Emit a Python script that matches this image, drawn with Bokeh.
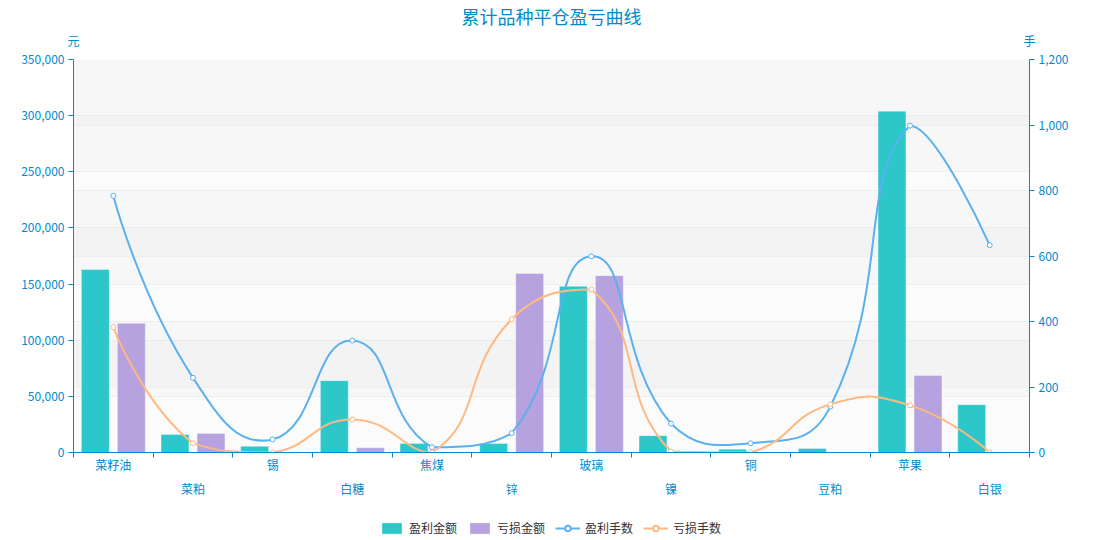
import math
from bokeh.plotting import figure
from bokeh.layouts import column
from bokeh.models import (Range1d, LinearAxis, FixedTicker, NumeralTickFormatter, Grid,
                          Legend, LegendItem, ColumnDataSource, CustomJSTickFormatter)
from bokeh.embed import file_html
from bokeh.resources import INLINE

# ---------------- data ----------------
categories = ["菜籽油", "菜粕", "锡", "白糖", "焦煤", "锌", "玻璃", "镍", "铜", "豆粕", "苹果", "白银"]
profit_amount = [163000, 16000, 5500, 64000, 8000, 8000, 148000, 15000, 3000, 3500, 304000, 42500]
loss_amount = [115000, 17000, 0, 4200, 0, 159500, 157500, 0, 0, 0, 68500, 0]
profit_lots = [784, 228, 40, 342, 16, 59, 599, 88, 28, 140, 998, 633]
loss_lots = [383, 28, 0, 101, 0, 407, 498, 3, 0, 147, 144, 0]
left_ticks = [0, 50000, 100000, 150000, 200000, 250000, 300000, 350000]
right_ticks = [0, 200, 400, 600, 800, 1000, 1200]
series_names = ["盈利金额", "亏损金额", "盈利手数", "亏损手数"]
title_text = "累计品种平仓盈亏曲线"
left_unit = "元"
right_unit = "手"

# ---------------- style ----------------
FONT = "Noto Sans CJK SC"
AXIS_COLOR = "#008acd"
C_PROFIT = "#2ec7c9"
C_LOSS = "#b6a2de"
C_PLOTS = "#5ab1ef"
C_LLOTS = "#ffb980"
FW, FH = 956, 393
TOTAL_W = 1098

n = len(categories)
xc = [i + 0.5 for i in range(n)]
BAR_W = 0.35
BAR_OFF = 0.226

p = figure(frame_width=FW, frame_height=FH, output_backend="svg", toolbar_location=None,
           x_range=Range1d(0, n), y_range=Range1d(left_ticks[0], left_ticks[-1]),
           min_border_left=73, min_border_right=TOTAL_W - 73 - FW, min_border_top=59,
           min_border_bottom=50,
           background_fill_color="#fbfbfb", border_fill_color="white", outline_line_color=None)
p.extra_y_ranges = {"right": Range1d(right_ticks[0], right_ticks[-1])}

# title
p.title.text = title_text
p.title.align = "center"
p.title.text_color = AXIS_COLOR
p.title.text_font = FONT
p.title.text_font_size = "18px"
p.title.text_font_style = "normal"
p.title.standoff = 0

# grids with alternating bands
p.xgrid.visible = False
lg = p.ygrid[0]
lg.ticker = FixedTicker(ticks=left_ticks)
lg.grid_line_color = "#eeeeee"
lg.band_fill_color = "#c8c8c8"
lg.band_fill_alpha = 0.08
rg = Grid(dimension=1, ticker=FixedTicker(ticks=right_ticks), y_range_name="right",
          grid_line_color="#eeeeee", band_fill_color="#c8c8c8", band_fill_alpha=0.08)
p.add_layout(rg)

# left y axis
ya = p.left[0]
ya.ticker = FixedTicker(ticks=left_ticks)
ya.formatter = NumeralTickFormatter(format="0,0")

# right y axis
ra = LinearAxis(y_range_name="right", ticker=FixedTicker(ticks=right_ticks),
                formatter=NumeralTickFormatter(format="0,0"))
p.add_layout(ra, "right")

for ax in (ya, ra):
    ax.axis_line_color = AXIS_COLOR
    ax.major_tick_line_color = AXIS_COLOR
    ax.major_tick_out = 5
    ax.major_tick_in = 0
    ax.minor_tick_out = 0
    ax.minor_tick_in = 0
    ax.major_label_text_color = AXIS_COLOR
    ax.major_label_text_font = FONT
    ax.major_label_text_font_size = "12px"
    ax.major_label_standoff = 4

# bottom axis: category boundary ticks, no labels
xa = p.below[0]
xa.ticker = FixedTicker(ticks=list(range(n + 1)))
xa.formatter = CustomJSTickFormatter(code="return ''")
xa.axis_line_color = AXIS_COLOR
xa.major_tick_line_color = AXIS_COLOR
xa.major_tick_out = 5
xa.major_tick_in = 0
xa.minor_tick_out = 0
xa.minor_tick_in = 0
xa.major_label_standoff = 0

# unit names above the two value axes
ua = LinearAxis(ticker=FixedTicker(ticks=[0, n]),
                major_label_overrides={0: left_unit, n: right_unit})
ua.axis_line_alpha = 0
ua.major_tick_out = 0
ua.major_tick_in = 0
ua.minor_tick_out = 0
ua.minor_tick_in = 0
ua.major_label_text_color = AXIS_COLOR
ua.major_label_text_font = FONT
ua.major_label_text_font_size = "12px"
ua.major_label_standoff = 11
p.add_layout(ua, "above")

# category label rows (alternating)
for start, standoff in ((0, -2), (1, 4)):
    ticks = [xc[i] for i in range(start, n, 2)]
    lab = LinearAxis(ticker=FixedTicker(ticks=ticks),
                     major_label_overrides={xc[i]: categories[i] for i in range(start, n, 2)})
    lab.axis_line_alpha = 0
    lab.major_tick_out = 0
    lab.major_tick_in = 0
    lab.minor_tick_out = 0
    lab.minor_tick_in = 0
    lab.major_label_text_color = AXIS_COLOR
    lab.major_label_text_font = FONT
    lab.major_label_text_font_size = "12px"
    lab.major_label_standoff = standoff
    p.add_layout(lab, "below")

# bars
bsrc = ColumnDataSource(dict(
    xp=[x - BAR_OFF for x in xc], xl=[x + BAR_OFF for x in xc],
    profit=profit_amount, loss=loss_amount))
p.vbar(x="xp", top="profit", bottom=0, width=BAR_W, source=bsrc,
       fill_color=C_PROFIT, line_color="white", line_alpha=0.35)
p.vbar(x="xl", top="loss", bottom=0, width=BAR_W, source=bsrc,
       fill_color=C_LOSS, line_color="white", line_alpha=0.35)

# smooth lines (ECharts-like bezier smoothing, computed in pixel space)
sx = FW / n
sy = FH / (right_ticks[-1] - right_ticks[0])


def smooth_curve(ys, smooth=0.5):
    pts = [(xc[i] * sx, ys[i] * sy) for i in range(n)]
    mnx = min(q[0] for q in pts); mxx = max(q[0] for q in pts)
    mny = min(q[1] for q in pts); mxy = max(q[1] for q in pts)

    def clamp(c):
        return (min(max(c[0], mnx), mxx), min(max(c[1], mny), mxy))

    cps = []
    for i in range(n):
        q = pts[i]
        if i == 0 or i == n - 1:
            cps.append((q, q))
            continue
        pr, nx = pts[i - 1], pts[i + 1]
        vx = (nx[0] - pr[0]) * smooth
        vy = (nx[1] - pr[1]) * smooth
        d0 = math.hypot(q[0] - pr[0], q[1] - pr[1])
        d1 = math.hypot(q[0] - nx[0], q[1] - nx[1])
        s = d0 + d1
        if s:
            d0 /= s
            d1 /= s
        c0 = clamp((q[0] - vx * d0, q[1] - vy * d0))
        c1 = clamp((q[0] + vx * d1, q[1] + vy * d1))
        cps.append((c0, c1))
    d = dict(x0=[], y0=[], x1=[], y1=[], cx0=[], cy0=[], cx1=[], cy1=[])
    for i in range(n - 1):
        a, b = pts[i], pts[i + 1]
        ca, cb = cps[i][1], cps[i + 1][0]
        d["x0"].append(a[0] / sx); d["y0"].append(a[1] / sy)
        d["x1"].append(b[0] / sx); d["y1"].append(b[1] / sy)
        d["cx0"].append(ca[0] / sx); d["cy0"].append(ca[1] / sy)
        d["cx1"].append(cb[0] / sx); d["cy1"].append(cb[1] / sy)
    return ColumnDataSource(d)


for ys, col in ((profit_lots, C_PLOTS), (loss_lots, C_LLOTS)):
    p.bezier(x0="x0", y0="y0", x1="x1", y1="y1", cx0="cx0", cy0="cy0", cx1="cx1", cy1="cy1",
             source=smooth_curve(ys), line_color=col, line_width=2, y_range_name="right")
    p.scatter(x=xc, y=ys, size=5, marker="circle", fill_color="white", line_color=col,
              line_width=1, y_range_name="right")

# ---------------- legend strip (separate figure directly below) ----------------
LEG_H = 36
NAN = [float("nan")]
pl = figure(width=TOTAL_W, height=LEG_H, output_backend="svg", toolbar_location=None,
            x_axis_type=None, y_axis_type=None, x_range=Range1d(0, 1), y_range=Range1d(0, 1),
            min_border=0, outline_line_color=None, border_fill_color="white",
            background_fill_color="white")
pl.xgrid.visible = False
pl.ygrid.visible = False
g_pa = pl.vbar(x=NAN, top=NAN, width=0.1, fill_color=C_PROFIT, line_color="white",
               line_alpha=0.35)
g_la = pl.vbar(x=NAN, top=NAN, width=0.1, fill_color=C_LOSS, line_color="white",
               line_alpha=0.35)
g_p1 = pl.line(x=NAN, y=NAN, line_color=C_PLOTS, line_width=2)
g_p2 = pl.scatter(x=NAN, y=NAN, size=10, marker="circle", fill_color="white",
                  line_color=C_PLOTS, line_width=2)
g_l1 = pl.line(x=NAN, y=NAN, line_color=C_LLOTS, line_width=2)
g_l2 = pl.scatter(x=NAN, y=NAN, size=10, marker="circle", fill_color="white",
                  line_color=C_LLOTS, line_width=2)

legend = Legend(items=[
    LegendItem(label=series_names[0], renderers=[g_pa]),
    LegendItem(label=series_names[1], renderers=[g_la]),
    LegendItem(label=series_names[2], renderers=[g_p1, g_p2]),
    LegendItem(label=series_names[3], renderers=[g_l1, g_l2]),
], orientation="horizontal", location=(306, 2), glyph_width=25, glyph_height=14,
    label_standoff=5, spacing=10, padding=0, margin=0,
    label_text_font=FONT, label_text_font_size="12px", label_text_color="#333333",
    background_fill_alpha=0, border_line_alpha=0)
pl.add_layout(legend, "center")

layout = column(p, pl, spacing=0)
open("out.html", "w").write(file_html(layout, INLINE))
